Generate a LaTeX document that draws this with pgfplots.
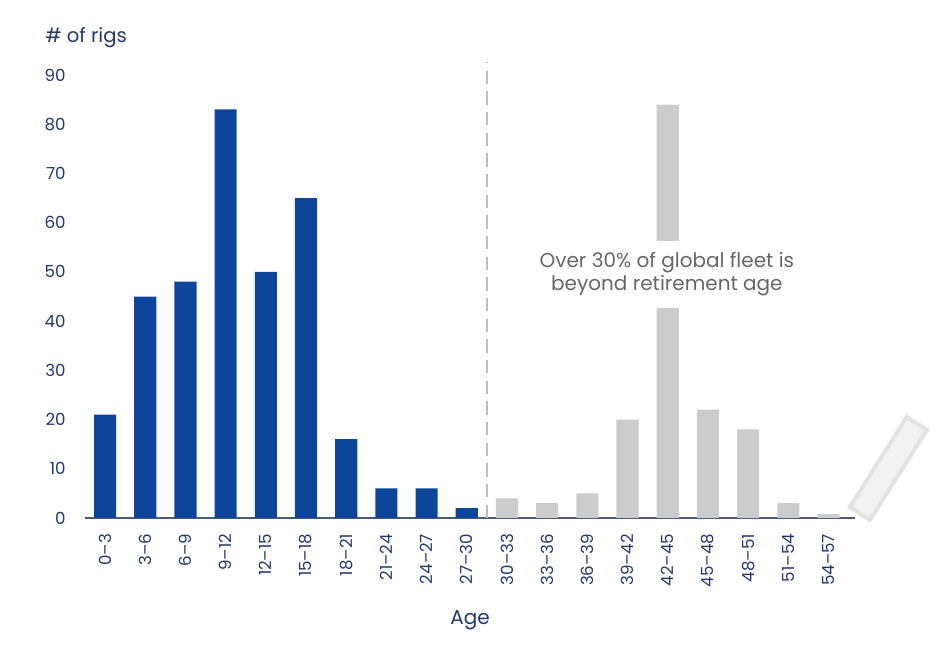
\documentclass[border=0pt]{standalone}
\usepackage{pgfplots}
\pgfplotsset{compat=1.18}
\usepackage{fontspec}
\setmainfont{Poppins}
\definecolor{barblue}{HTML}{0C4599}
\definecolor{bargrey}{HTML}{CCCCCC}
\definecolor{navy}{HTML}{22396E}
\definecolor{axisln}{HTML}{4A5A78}
\definecolor{notegrey}{HTML}{666666}
\definecolor{dashgrey}{HTML}{BDBDBD}
\begin{document}
\begin{tikzpicture}
\begin{axis}[
  scale only axis,
  width=577.5pt, height=332.25pt,
  xmin=-0.5, xmax=18.66, ymin=0, ymax=90,
  clip=false,
  axis x line*=bottom, axis y line*=left,
  x axis line style={color=axisln, line width=1.1pt, -},
  y axis line style={draw=none},
  ytick={0,10,...,90},
  xtick={0,...,18},
  xticklabels={0--3,3--6,6--9,9--12,12--15,15--18,18--21,21--24,24--27,27--30,30--33,33--36,36--39,39--42,42--45,45--48,48--51,51--54,54--57},
  major tick length=0pt,
  /pgf/number format/assume math mode=true,
  tick label style={font=\fontsize{12.5}{14}\selectfont, color=navy},
  xticklabel style={rotate=90, anchor=east, inner sep=0pt, outer sep=0pt},
  xticklabel shift=12pt,
  yticklabel style={anchor=east, xshift=-11pt},
  ybar, bar width=0.55, bar shift=0pt,
]
\addplot[fill=barblue, draw=none] coordinates {
(0,21) (1,45) (2,48) (3,83) (4,50) (5,65) (6,16) (7,6) (8,6) (9,2)};
\addplot[fill=bargrey, draw=none] coordinates {
(10,4) (11,3) (12,5) (13,20) (14,84) (15,22) (16,18) (17,3) (18,0.8)};
\draw[dashgrey, line width=1.5pt, dash pattern=on 10pt off 5.5pt] (axis cs:9.5,0) -- (axis cs:9.5,92.6);
\fill[white] (axis cs:13.6,42.7) rectangle (axis cs:14.4,56.3);
\node[align=center, font=\fontsize{15}{17.5}\selectfont, color=notegrey] at (axis cs:13.98,49.6) {Over 30\% of global fleet is\\beyond retirement age};
\node[rotate=57.7, minimum width=80pt, minimum height=18pt, draw=gray!22, line width=3pt, fill=gray!10] at (axis cs:19.49,10.06) {};
\node[anchor=south west, inner sep=0pt, font=\fontsize{14.7}{17}\selectfont, color=navy] at ([xshift=-30pt,yshift=20pt]rel axis cs:0,1) {\# of rigs};
\node[anchor=center, inner sep=0pt, font=\fontsize{15}{17}\selectfont, color=navy] at ([yshift=-76.5pt]rel axis cs:0.5,0) {Age};
\coordinate (bl) at (rel axis cs:0,0);
\coordinate (tr) at (rel axis cs:1,1);
\end{axis}
\path ([shift={(-63.75pt,-99.75pt)}]bl) rectangle ([shift={(63.75pt,56.25pt)}]tr);
\end{tikzpicture}
\end{document}
